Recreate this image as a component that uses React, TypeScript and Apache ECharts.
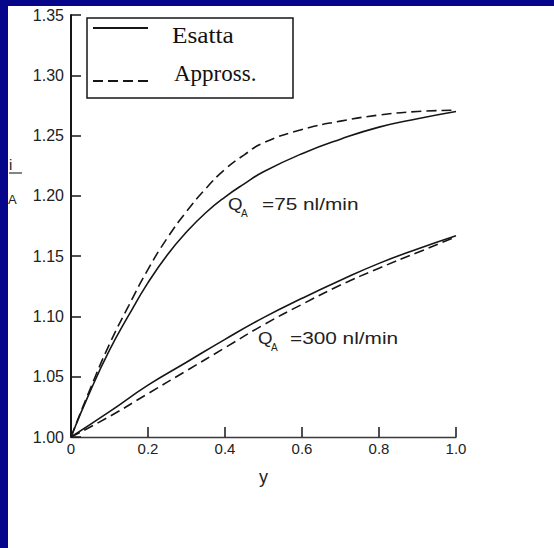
import React, { useEffect, useRef } from "react";
import * as echarts from "echarts";

// x positions (y variable on the horizontal axis)
const xFine = [0, 0.05, 0.1, 0.15, 0.2, 0.25, 0.3, 0.35, 0.4, 0.45, 0.5, 0.6, 0.7, 0.8, 0.9, 1.0];
const xCoarse = [0, 0.1, 0.2, 0.3, 0.4, 0.5, 0.6, 0.7, 0.8, 0.9, 1.0];

// Q_A = 75 nl/min
const q75Exact = [1.0, 1.038, 1.072, 1.101, 1.128, 1.151, 1.17, 1.186, 1.199, 1.21, 1.22, 1.235, 1.247, 1.257, 1.264, 1.27];
const q75Approx = [1.0, 1.04, 1.077, 1.109, 1.139, 1.165, 1.187, 1.206, 1.222, 1.234, 1.244, 1.255, 1.262, 1.267, 1.27, 1.271];

// Q_A = 300 nl/min
const q300Exact = [1.0, 1.021, 1.043, 1.062, 1.081, 1.099, 1.115, 1.13, 1.144, 1.156, 1.167];
const q300Approx = [1.0, 1.017, 1.036, 1.055, 1.074, 1.093, 1.11, 1.126, 1.14, 1.153, 1.166];

const xTicks = [0, 0.2, 0.4, 0.6, 0.8, 1.0];
const yTicks = [1.0, 1.05, 1.1, 1.15, 1.2, 1.25, 1.3, 1.35];

const legendLabels = ["Esatta", "Appross."];
const curveLabels = ["=75 nl/min", "=300 nl/min"];

const pairs = (xs: number[], ys: number[]) => xs.map((x, i) => [x, ys[i]]);

const INK = "#161616";
const SANS = "'Liberation Sans', Arial, sans-serif";
const SERIF = "'Liberation Serif', 'Times New Roman', serif";

export default function App() {
  const ref = useRef<HTMLDivElement>(null);

  useEffect(() => {
    if (!ref.current) return;
    const chart = echarts.init(ref.current, null, { renderer: "svg" });

    const lineSeries = (name: string, data: number[][], dashed: boolean) => ({
      name,
      type: "line",
      data,
      smooth: 0.5,
      symbol: "none",
      lineStyle: {
        color: INK,
        width: 1.6,
        type: dashed ? [10, 5] : "solid",
      },
      z: 3,
    });

    const annot = (x: number, y: number, text: string, size: number, sx = 1) => ({
      type: "text",
      x,
      y,
      scaleX: sx,
      style: { text, fontFamily: SANS, fontSize: size, fill: "#222", verticalAlign: "middle" },
      z: 11,
    });

    chart.setOption({
      animation: false,
      backgroundColor: "#ffffff",
      grid: { left: 63, top: 9, right: 98, bottom: 111, containLabel: false },
      xAxis: {
        type: "value",
        min: 0,
        max: 1,
        interval: 0.2,
        name: "y",
        nameLocation: "middle",
        nameGap: 31,
        nameTextStyle: { fontFamily: SANS, fontSize: 18, color: "#222" },
        axisLine: { show: true, onZero: false, lineStyle: { color: "#3a3a3a", width: 1.3 } },
        axisTick: { show: true, inside: true, length: 10, lineStyle: { color: INK, width: 1.5 } },
        axisLabel: {
          margin: 4,
          fontFamily: SANS,
          fontSize: 15,
          color: "#222",
          formatter: (v: number) => {
            const t = xTicks.find((k) => Math.abs(k - v) < 1e-9);
            if (t === undefined) return "";
            return t === 0 ? "0" : t.toFixed(1);
          },
        },
        splitLine: { show: false },
      },
      yAxis: {
        type: "value",
        min: 1.0,
        max: 1.35,
        interval: 0.05,
        axisLine: { show: true, onZero: false, lineStyle: { color: INK, width: 2 } },
        axisTick: { show: true, inside: true, length: 10, lineStyle: { color: INK, width: 1.5 } },
        axisLabel: {
          margin: 7,
          fontFamily: SANS,
          fontSize: 16,
          color: "#222",
          formatter: (v: number) => {
            const t = yTicks.find((k) => Math.abs(k - v) < 1e-9);
            return t === undefined ? "" : t.toFixed(2);
          },
        },
        splitLine: { show: false },
      },
      series: [
        lineSeries("Q75 Esatta", pairs(xFine, q75Exact), false),
        lineSeries("Q75 Appross.", pairs(xFine, q75Approx), true),
        lineSeries("Q300 Esatta", pairs(xCoarse, q300Exact), false),
        lineSeries("Q300 Appross.", pairs(xCoarse, q300Approx), true),
      ],
      graphic: [
        // legend box
        {
          type: "rect",
          shape: { x: 79, y: 12, width: 206, height: 80 },
          style: { fill: "#ffffff", stroke: INK, lineWidth: 1.5 },
          z: 10,
        },
        {
          type: "line",
          shape: { x1: 85, y1: 22, x2: 140, y2: 22 },
          style: { stroke: INK, lineWidth: 2 },
          z: 11,
        },
        {
          type: "line",
          shape: { x1: 85, y1: 75, x2: 141, y2: 75 },
          style: { stroke: INK, lineWidth: 2, lineDash: [10, 5] },
          z: 11,
        },
        {
          type: "text",
          x: 164,
          y: 29,
          scaleX: 1.1,
          style: {
            text: legendLabels[0],
            fontFamily: SERIF,
            fontSize: 23,
            fill: "#111",
            verticalAlign: "middle",
          },
          z: 11,
        },
        {
          type: "text",
          x: 166,
          y: 67,
          style: {
            text: legendLabels[1],
            fontFamily: SERIF,
            fontSize: 23,
            fill: "#111",
            verticalAlign: "middle",
          },
          z: 11,
        },
        // curve annotations: Q_A = 75
        annot(220, 198, "Q", 17, 1.1),
        annot(233, 207, "A", 10),
        annot(254, 198, curveLabels[0], 16, 1.3),
        // Q_A = 300
        annot(250, 332, "Q", 17, 1.1),
        annot(263, 341, "A", 10),
        annot(282, 332, curveLabels[1], 16, 1.3),
        // truncated y-axis name at the left edge
        annot(1, 158, "i", 15),
        {
          type: "line",
          shape: { x1: 1, y1: 167, x2: 14, y2: 167 },
          style: { stroke: "#333", lineWidth: 1.2 },
          z: 11,
        },
        annot(0, 193, "A", 13),
      ],
    });

    return () => chart.dispose();
  }, []);

  return (
    <div
      style={{
        position: "absolute",
        left: 0,
        top: 0,
        width: 554,
        height: 548,
        background: "#06068a",
        overflow: "hidden",
      }}
    >
      <div
        ref={ref}
        style={{ position: "absolute", left: 8, top: 6, width: 546, height: 542, background: "#ffffff" }}
      />
    </div>
  );
}
